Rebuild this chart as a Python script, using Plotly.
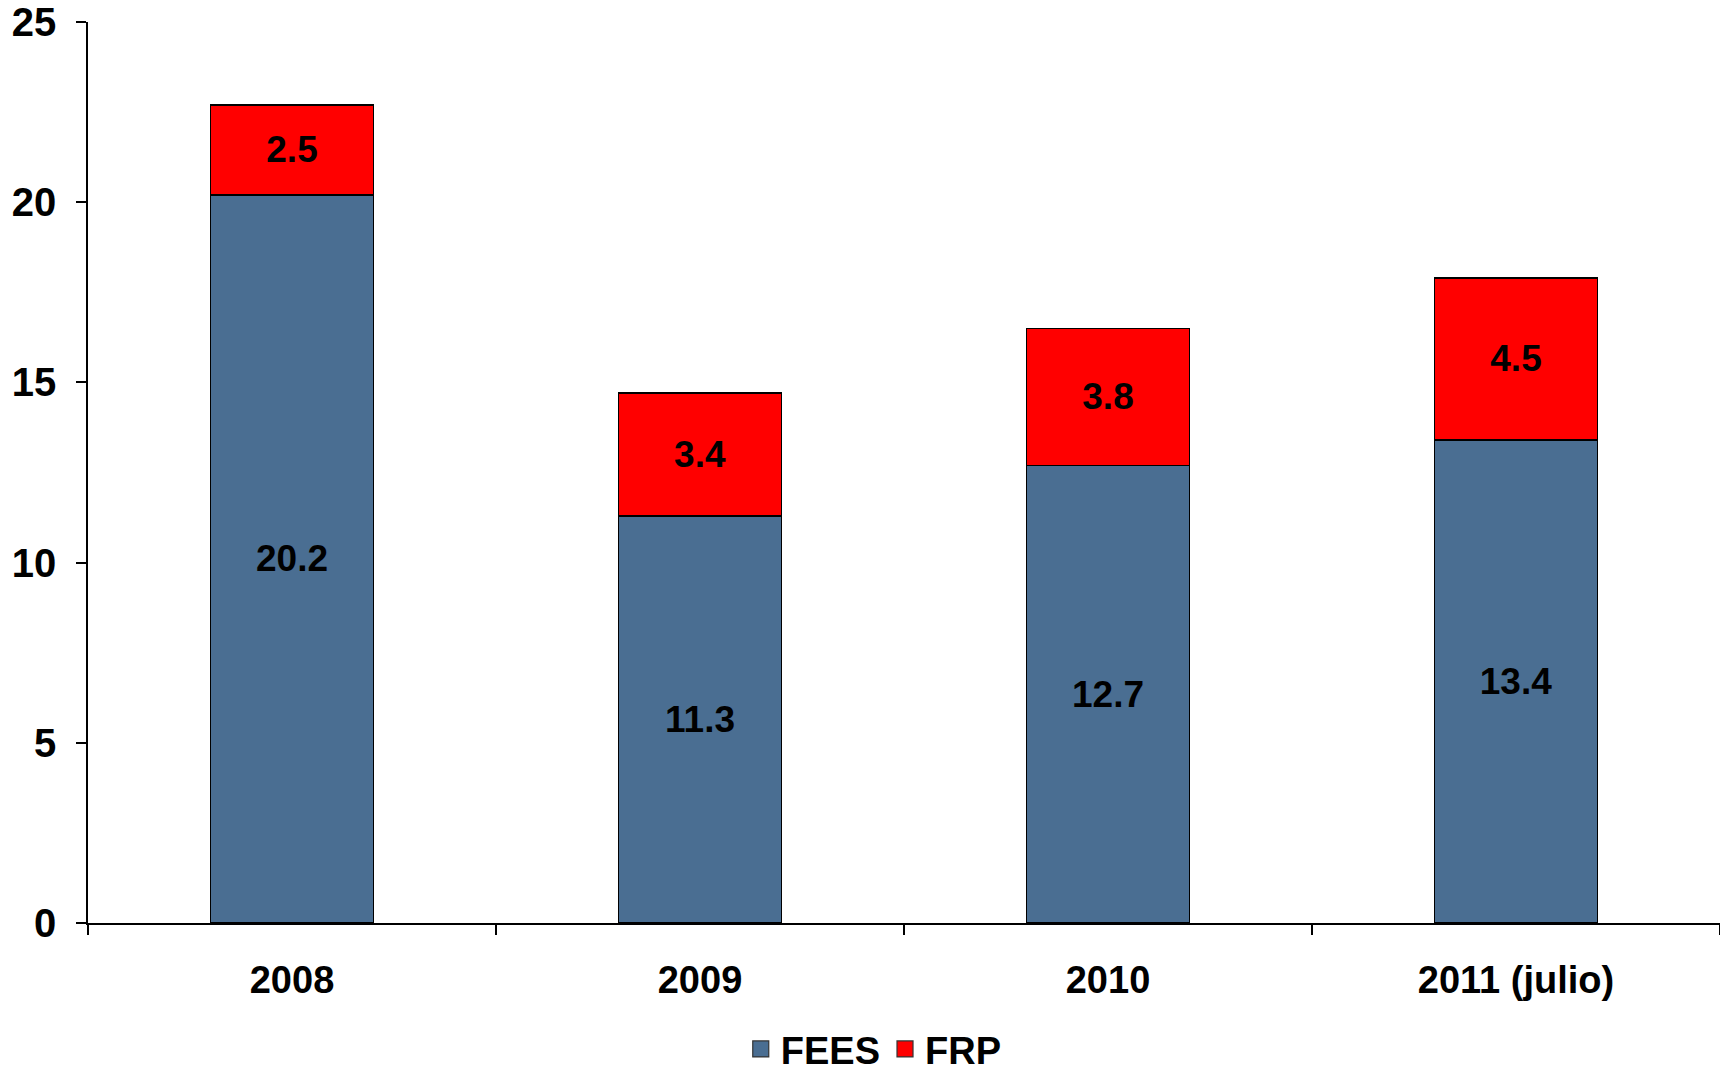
import plotly.graph_objects as go

categories = ["2008", "2009", "2010", "2011 (julio)"]
fees = [20.2, 11.3, 12.7, 13.4]
frp = [2.5, 3.4, 3.8, 4.5]
y_ticks = [0, 5, 10, 15, 20, 25]

FONT = "Liberation Sans, Arial, sans-serif"
BLUE = "#4A6E92"
RED = "#FF0000"

series = [("FEES", fees, BLUE), ("FRP", frp, RED)]

fig = go.Figure()
for name, vals, color in series:
    fig.add_trace(go.Bar(
        name=name,
        x=categories,
        y=vals,
        showlegend=False,
        marker=dict(color=color, line=dict(color="#000000", width=1.5)),
        text=[f"{v:.1f}" for v in vals],
        textposition="inside",
        insidetextanchor="middle",
        constraintext="none",
        textfont=dict(family=FONT, size=37, color="#000000", weight="bold"),
        textangle=0,
    ))

# legend entries with larger square swatches
for name, vals, color in series:
    fig.add_trace(go.Scatter(
        name=name,
        x=[None],
        y=[None],
        mode="markers",
        marker=dict(symbol="square", size=22, color=color,
                    line=dict(color="#333333", width=1.2)),
        showlegend=True,
    ))

fig.update_layout(
    barmode="stack",
    bargap=0.6,
    width=1720,
    height=1075,
    paper_bgcolor="white",
    plot_bgcolor="white",
    margin=dict(l=88, r=0, t=22, b=152),
    showlegend=True,
    legend=dict(
        orientation="h",
        traceorder="normal",
        xref="container",
        yref="container",
        x=0.508,
        xanchor="center",
        y=0.024,
        yanchor="middle",
        font=dict(family=FONT, size=38, color="#000000", weight="bold"),
        itemsizing="trace",
        itemwidth=30,
        tracegroupgap=0,
    ),
)

fig.update_xaxes(
    type="category",
    automargin=False,
    showline=True,
    linecolor="#000000",
    linewidth=1.5,
    ticks="outside",
    tickson="boundaries",
    ticklen=10,
    tickwidth=1.5,
    tickcolor="#000000",
    tickfont=dict(family=FONT, size=38, color="#000000", weight="bold"),
    ticklabelstandoff=23,
    showgrid=False,
    zeroline=False,
)

fig.update_yaxes(
    range=[0, 25],
    automargin=False,
    tickvals=y_ticks,
    ticktext=[str(t) for t in y_ticks],
    showline=True,
    linecolor="#000000",
    linewidth=1.5,
    ticks="outside",
    ticklen=10,
    tickwidth=1.5,
    tickcolor="#000000",
    tickfont=dict(family=FONT, size=40, color="#000000", weight="bold"),
    ticklabelstandoff=12,
    showgrid=False,
    zeroline=False,
)

fig.write_html(
    "out.html",
    config={"displayModeBar": False},
    post_script="document.body.style.margin='0';document.body.style.overflow='hidden';",
)
